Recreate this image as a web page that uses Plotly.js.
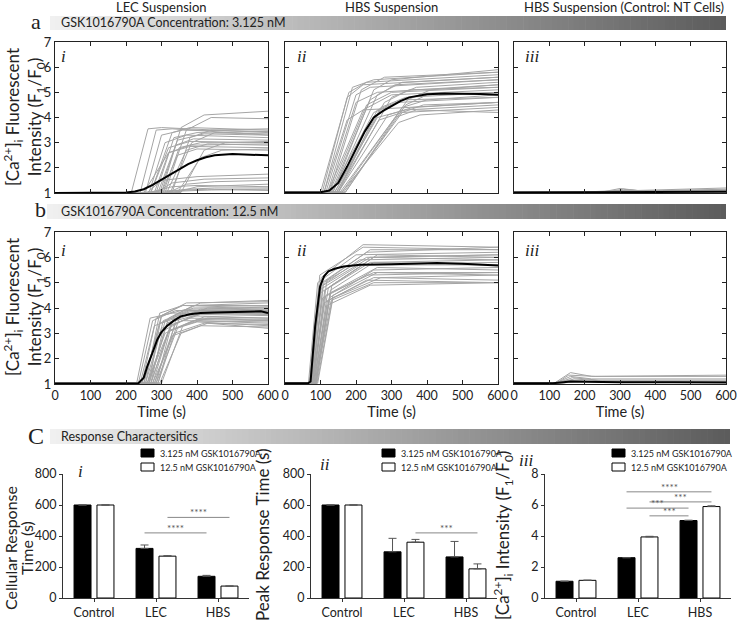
<!DOCTYPE html>
<html>
<head>
<meta charset="utf-8">
<script src="https://cdn.plot.ly/plotly-3.0.1.min.js"></script>
<style>
  html, body { margin: 0; padding: 0; background: #fff; }
  #chart { width: 737px; height: 621px; }
</style>
</head>
<body>
<div id="chart"></div>
<script>
// ---- traces: one row per cell, [onset, riseEnd, riseValue, settleTime, plateau, valueAt600] ----
const timeTicks = [0, 100, 200, 300, 400, 500, 600];

const lecLowCells = [
  [215, 262, 3.55, 300, 3.6, 3.4], [240, 285, 3.5, 330, 3.55, 3.3], [255, 300, 3.3, 360, 3.5, 3.45],
  [270, 330, 3.4, 380, 3.6, 3.5], [300, 355, 3.6, 420, 4.1, 4.25], [310, 370, 3.5, 440, 4.0, 3.95],
  [285, 335, 3.2, 400, 3.4, 3.35], [295, 345, 3.1, 420, 3.35, 3.3], [305, 350, 2.8, 410, 3.0, 3.0],
  [315, 370, 2.7, 430, 2.95, 2.9], [280, 320, 2.6, 380, 2.85, 2.8], [325, 385, 3.0, 450, 3.4, 3.45],
  [345, 410, 2.4, 470, 2.7, 2.75], [290, 340, 2.9, 390, 3.15, 3.1], [265, 310, 3.0, 370, 3.3, 3.2],
  [300, 345, 2.5, 400, 2.75, 2.7], [330, 380, 3.2, 440, 3.5, 3.55], [355, 420, 2.7, 480, 3.0, 3.05],
  [270, 320, 2.8, 380, 3.05, 3.0], [250, 320, 2.6, 380, 2.9, 2.95], [260, 300, 1.5, 400, 1.65, 1.75],
  [285, 330, 1.4, 420, 1.55, 1.6], [320, 370, 1.35, 450, 1.45, 1.5], [265, 330, 1.25, 400, 1.3, 1.25],
  [300, 370, 1.15, 450, 1.2, 1.2], [240, 330, 1.1, 430, 1.15, 1.1], [340, 400, 1.25, 480, 1.3, 1.35],
  [305, 360, 1.08, 440, 1.12, 1.15]
];
const hbsLowCells = [
  [100, 180, 5.0, 230, 5.4, 5.7], [105, 175, 4.8, 220, 5.3, 5.6], [110, 190, 5.2, 250, 5.5, 5.8],
  [115, 200, 4.9, 240, 5.2, 5.5], [110, 175, 3.9, 220, 4.3, 4.6], [120, 200, 4.6, 260, 5.0, 5.3],
  [125, 230, 4.5, 300, 5.0, 5.2], [130, 240, 4.7, 310, 5.3, 5.5], [130, 250, 4.2, 320, 4.6, 4.8],
  [135, 260, 4.9, 330, 5.4, 5.6], [140, 260, 4.0, 340, 4.3, 4.5], [140, 270, 4.4, 340, 4.8, 5.0],
  [145, 280, 4.6, 350, 5.1, 5.2], [150, 290, 4.1, 360, 4.4, 4.6], [150, 300, 4.8, 370, 5.2, 5.4],
  [120, 220, 4.3, 300, 4.9, 5.1], [160, 320, 3.8, 380, 4.1, 4.3], [165, 330, 4.2, 390, 4.5, 4.6],
  [170, 340, 4.5, 400, 4.9, 5.0], [155, 310, 4.0, 370, 4.3, 4.2], [160, 330, 4.4, 400, 4.7, 4.9],
  [170, 345, 4.7, 410, 5.1, 5.3], [135, 250, 5.1, 300, 5.5, 5.9], [125, 215, 5.1, 280, 5.6, 5.8],
  [145, 265, 3.9, 330, 4.2, 4.4], [150, 260, 4.3, 330, 4.7, 4.8]
];
const ntLowCells = [
  [250, 300, 1.18, 350, 1.1, 1.2], [260, 310, 1.15, 360, 1.08, 1.15], [280, 320, 1.12, 380, 1.08, 1.12],
  [200, 300, 1.1, 400, 1.07, 1.1], [250, 300, 1.08, 400, 1.06, 1.08], [300, 350, 1.08, 450, 1.05, 1.06]
];
const lecHighCells = [
  [230, 268, 3.6, 330, 3.8, 3.75], [235, 275, 3.5, 340, 3.9, 3.85], [240, 280, 3.3, 360, 3.7, 3.6],
  [245, 285, 3.6, 360, 4.1, 4.0], [250, 295, 3.4, 380, 3.9, 3.9], [250, 300, 3.7, 370, 4.2, 4.25],
  [255, 300, 3.2, 380, 3.6, 3.55], [260, 305, 3.5, 390, 4.0, 4.05], [260, 310, 3.0, 390, 3.5, 3.4],
  [265, 315, 3.4, 400, 3.85, 3.8], [265, 320, 3.6, 390, 4.1, 4.2], [270, 320, 3.1, 400, 3.45, 3.3],
  [270, 325, 3.3, 400, 3.75, 3.7], [275, 330, 3.5, 410, 3.95, 3.95], [275, 335, 3.0, 420, 3.4, 3.35],
  [280, 340, 3.4, 420, 3.8, 3.75], [285, 345, 3.2, 420, 3.65, 3.6], [290, 350, 3.6, 430, 4.0, 3.9],
  [295, 355, 3.0, 430, 3.4, 3.2], [300, 360, 3.3, 430, 3.6, 3.5], [255, 295, 3.8, 360, 4.1, 4.1],
  [245, 290, 3.0, 360, 3.5, 3.45], [285, 335, 3.7, 410, 4.2, 4.3], [270, 310, 3.5, 380, 3.85, 3.85],
  [260, 320, 3.1, 400, 3.55, 3.5], [290, 340, 3.5, 420, 3.8, 3.8], [280, 330, 2.9, 410, 3.3, 3.25],
  [265, 300, 3.7, 370, 3.95, 4.0]
];
const hbsHighCells = [
  [66, 92, 5.0, 200, 6.1, 6.2], [68, 95, 4.8, 210, 5.9, 6.0], [70, 98, 5.3, 220, 6.4, 6.3],
  [72, 100, 4.6, 220, 5.7, 5.8], [72, 104, 5.0, 230, 6.2, 6.4], [74, 106, 4.4, 230, 5.3, 5.4],
  [75, 108, 4.9, 240, 6.0, 5.9], [76, 110, 4.2, 230, 5.1, 5.0], [78, 112, 4.7, 240, 5.8, 5.9],
  [78, 115, 4.5, 250, 5.4, 5.3], [80, 118, 5.1, 240, 6.3, 6.3], [80, 120, 4.3, 250, 5.2, 5.1],
  [82, 122, 4.8, 250, 6.0, 6.1], [84, 125, 4.4, 250, 5.5, 5.6], [85, 128, 4.6, 260, 5.6, 5.5],
  [86, 130, 4.3, 250, 5.0, 5.0], [88, 132, 4.9, 260, 6.1, 6.0], [90, 135, 4.5, 260, 5.4, 5.4],
  [70, 96, 4.7, 210, 5.7, 5.7], [74, 102, 5.2, 220, 6.5, 6.4], [82, 118, 4.1, 240, 4.9, 5.0],
  [88, 128, 4.7, 250, 5.8, 5.7], [76, 108, 5.0, 230, 6.0, 6.1], [92, 135, 4.4, 270, 5.2, 5.3]
];
const ntHighCells = [
  [115, 160, 1.45, 220, 1.3, 1.35], [120, 155, 1.35, 230, 1.3, 1.3], [120, 160, 1.3, 220, 1.2, 1.2],
  [125, 165, 1.25, 240, 1.15, 1.15], [130, 170, 1.2, 250, 1.12, 1.1], [110, 150, 1.15, 220, 1.1, 1.08],
  [140, 180, 1.12, 260, 1.08, 1.07]
];
const cellBaseline = [1.02, 1.03, 1.04, 1.03, 1.03, 1.04];

// mean traces (black)
const lecLowMeanT = [0, 100, 200, 225, 250, 275, 300, 325, 350, 375, 400, 425, 450, 500, 550, 600];
const lecLowMeanV = [1.0, 1.0, 1.02, 1.06, 1.15, 1.32, 1.52, 1.75, 1.95, 2.15, 2.3, 2.42, 2.5, 2.55, 2.52, 2.5];
const hbsLowMeanT = [0, 100, 125, 150, 175, 200, 225, 250, 275, 300, 325, 350, 400, 450, 500, 550, 600];
const hbsLowMeanV = [1.02, 1.03, 1.1, 1.4, 2.05, 2.75, 3.45, 4.0, 4.25, 4.45, 4.65, 4.8, 4.92, 4.95, 4.95, 4.93, 4.9];
const ntLowMeanT = [0, 300, 600];
const ntLowMeanV = [1.02, 1.03, 1.05];
const lecHighMeanT = [0, 200, 235, 250, 260, 275, 288, 300, 316, 335, 354, 380, 410, 450, 505, 550, 580, 600];
const lecHighMeanV = [1.02, 1.02, 1.03, 1.25, 1.7, 2.25, 2.75, 3.05, 3.3, 3.5, 3.67, 3.75, 3.8, 3.82, 3.83, 3.86, 3.87, 3.8];
const hbsHighMeanT = [0, 65, 72, 85, 99, 110, 122, 140, 165, 212, 300, 334, 428, 500, 550, 600];
const hbsHighMeanV = [1.03, 1.03, 1.1, 3.28, 4.86, 5.25, 5.45, 5.55, 5.64, 5.71, 5.73, 5.74, 5.78, 5.75, 5.72, 5.68];
const ntHighMeanT = [0, 110, 140, 160, 200, 300, 450, 600];
const ntHighMeanV = [1.03, 1.03, 1.07, 1.1, 1.09, 1.07, 1.07, 1.06];

// ---- response characteristics ----
const groups = ['Control', 'LEC', 'HBS'];
const doseNames = ['3.125 nM GSK1016790A', '12.5 nM GSK1016790A'];
const onsetLow = [600, 320, 140], onsetLowErr = [0, 22, 6];
const onsetHigh = [600, 270, 77], onsetHighErr = [0, 3, 0];
const peakLow = [600, 298, 265], peakLowErr = [0, 87, 100];
const peakHigh = [600, 360, 188], peakHighErr = [0, 18, 32];
const ampLow = [1.08, 2.6, 5.0], ampLowErr = [0, 0, 0.02];
const ampHigh = [1.14, 3.94, 5.9], ampHighErr = [0.01, 0.04, 0.05];
// [groupA, doseA, groupB, doseB, level, stars]
const onsetSig = [[1, 0, 2, 0, 420, '****'], [1, 1, 2, 1, 520, '****']];
const peakSig = [[1, 1, 2, 1, 420, '***']];
const ampSig = [[1, 0, 2, 1, 6.85, '****'], [1, 1, 2, 1, 6.2, '***'], [1, 0, 2, 0, 5.8, '***'], [1, 1, 2, 0, 5.3, '***']];

// ---- layout helpers (pixel -> paper) ----
const W = 737, H = 621;
const fx = x => x / W;
const fy = y => 1 - y / H;
const FONT = "Lato, 'Open Sans', sans-serif";
const SERIF = "'Liberation Serif', 'DejaVu Serif', serif";
const GREY = '#a5a5a5';
const AXC = '#222';

const traces = [];
const layout = {
  width: W, height: H,
  margin: { l: 0, r: 0, t: 0, b: 0 },
  paper_bgcolor: '#fff', plot_bgcolor: 'rgba(0,0,0,0)',
  font: { family: FONT, color: '#222', size: 13 },
  showlegend: false,
  barmode: 'group', bargap: 0.26, bargroupgap: 0.26,
  shapes: [], annotations: []
};

// time course panels
const lineCols = [[55, 268], [285, 498], [514, 726]];
const lineRows = [[42, 193], [232, 384]];
const panelCells = [lecLowCells, hbsLowCells, ntLowCells, lecHighCells, hbsHighCells, ntHighCells];
const panelMeans = [
  [lecLowMeanT, lecLowMeanV], [hbsLowMeanT, hbsLowMeanV], [ntLowMeanT, ntLowMeanV],
  [lecHighMeanT, lecHighMeanV], [hbsHighMeanT, hbsHighMeanV], [ntHighMeanT, ntHighMeanV]
];
const tEnd = timeTicks[timeTicks.length - 1];

panelCells.forEach((cells, p) => {
  const n = p + 1, r = Math.floor(p / 3), c = p % 3;
  const xa = 'x' + n, ya = 'y' + n;
  const base = cellBaseline[p];
  cells.forEach(cell => {
    const [t0, t1, v1, t2, v2, v3] = cell;
    traces.push({
      type: 'scatter', mode: 'lines', xaxis: xa, yaxis: ya,
      x: [0, t0, t1, t2, tEnd], y: [base, base, v1, v2, v3],
      line: { color: GREY, width: 1 }, hoverinfo: 'skip'
    });
  });
  traces.push({
    type: 'scatter', mode: 'lines', xaxis: xa, yaxis: ya,
    x: panelMeans[p][0], y: panelMeans[p][1],
    line: { color: '#000', width: 2 }, hoverinfo: 'skip'
  });

  const xax = {
    domain: [fx(lineCols[c][0]), fx(lineCols[c][1])], anchor: ya,
    range: [0, tEnd], tickvals: timeTicks, ticks: 'inside', ticklen: 4, tickcolor: AXC,
    showline: true, linecolor: AXC, linewidth: 1, mirror: 'ticks',
    showgrid: false, zeroline: false, showticklabels: r === 1,
    tickfont: { size: 12.5 }, ticklabeloverflow: 'allow'
  };
  if (r === 1) xax.title = { text: 'Time (s)', font: { size: 14.5 }, standoff: 3 };
  layout['xaxis' + (n === 1 ? '' : n)] = xax;
  layout['yaxis' + (n === 1 ? '' : n)] = {
    domain: [fy(lineRows[r][1]), fy(lineRows[r][0])], anchor: xa,
    range: [1, 7], dtick: 1, ticks: 'inside', ticklen: 4, tickcolor: AXC,
    showline: true, linecolor: AXC, linewidth: 1, mirror: 'ticks',
    showgrid: false, zeroline: false, showticklabels: c === 0,
    tickfont: { size: 13 }
  };
});

// bar panels
const barCols = [[63, 249], [311, 497], [545, 731]];
const barRow = [474, 598];
const barSets = [
  { low: onsetLow, lowErr: onsetLowErr, high: onsetHigh, highErr: onsetHighErr, sig: onsetSig, max: 800, dtick: 200 },
  { low: peakLow, lowErr: peakLowErr, high: peakHigh, highErr: peakHighErr, sig: peakSig, max: 800, dtick: 200 },
  { low: ampLow, lowErr: ampLowErr, high: ampHigh, highErr: ampHighErr, sig: ampSig, max: 8, dtick: 2 }
];
const slotOffset = (1 - layout.bargap) / 4;
const legendBoxX = [141, 382, 612];

barSets.forEach((s, i) => {
  const n = 7 + i, xa = 'x' + n, ya = 'y' + n;
  [[s.low, s.lowErr, '#000'], [s.high, s.highErr, '#fff']].forEach(([vals, errs, fill], d) => {
    traces.push({
      type: 'bar', x: groups, y: vals, name: doseNames[d], xaxis: xa, yaxis: ya,
      marker: { color: fill, line: { color: '#000', width: 1 } },
      error_y: { type: 'data', symmetric: false, array: errs, arrayminus: errs.map(() => 0),
                 color: '#555', thickness: 1, width: 4 },
      hoverinfo: 'skip'
    });
  });
  layout['xaxis' + n] = {
    domain: [fx(barCols[i][0]), fx(barCols[i][1])], anchor: ya, type: 'category',
    range: [-0.5, 2.5], showline: true, linecolor: '#333', linewidth: 1,
    ticks: 'outside', ticklen: 3, tickcolor: '#333', showgrid: false, zeroline: false,
    tickfont: { size: 12.5 }
  };
  layout['yaxis' + n] = {
    domain: [fy(barRow[1]), fy(barRow[0])], anchor: xa,
    range: [0, s.max], dtick: s.dtick, showline: true, linecolor: '#333', linewidth: 1,
    ticks: 'outside', ticklen: 3, tickcolor: '#333', showgrid: false, zeroline: false,
    tickfont: { size: 12.5 }
  };
  s.sig.forEach(([ga, da, gb, db, lvl, stars]) => {
    const xA = ga + (da ? slotOffset : -slotOffset);
    const xB = gb + (db ? slotOffset : -slotOffset);
    layout.shapes.push({ type: 'line', xref: xa, yref: ya, x0: xA, x1: xB, y0: lvl, y1: lvl,
                         line: { color: '#888', width: 1 } });
    layout.annotations.push({ xref: xa, yref: ya, x: (xA + xB) / 2, y: lvl, yanchor: 'bottom',
                              text: stars, showarrow: false, font: { size: 10, color: '#555' }, yshift: -3 });
  });
  // legend
  doseNames.forEach((name, d) => {
    const cy = d ? 467 : 453;
    const bx = legendBoxX[i];
    layout.shapes.push({ type: 'rect', xref: 'paper', yref: 'paper',
      x0: fx(bx), x1: fx(bx + 13), y0: fy(cy + 4), y1: fy(cy - 4),
      fillcolor: d ? '#fff' : '#000', line: { color: '#000', width: 1 } });
    layout.annotations.push({ xref: 'paper', yref: 'paper', x: fx(bx + 17), y: fy(cy),
      xanchor: 'left', yanchor: 'middle', text: name, showarrow: false, font: { size: 9 } });
  });
});

// gradient banners
function banner(x0, x1, y0, y1) {
  const steps = 120, c0 = 240, c1 = 92;
  for (let k = 0; k < steps; k++) {
    const g = Math.round(c0 + (c1 - c0) * k / (steps - 1));
    const a = x0 + (x1 - x0) * k / steps, b = x0 + (x1 - x0) * (k + 1) / steps + 0.6;
    layout.shapes.push({ type: 'rect', xref: 'paper', yref: 'paper', layer: 'below',
      x0: fx(a), x1: fx(Math.min(b, x1)), y0: fy(y1), y1: fy(y0),
      fillcolor: `rgb(${g},${g},${g})`, line: { width: 0 } });
  }
}
banner(50, 726, 16, 30);
banner(47, 726, 204, 219);
banner(50, 730, 429, 444);

const ann = (text, x, y, opts = {}) => layout.annotations.push(Object.assign({
  xref: 'paper', yref: 'paper', x: fx(x), y: fy(y), text, showarrow: false,
  xanchor: 'center', yanchor: 'middle'
}, opts));

// column headers
ann('LEC Suspension', 161.5, 7, { font: { size: 13 } });
ann('HBS Suspension', 391.5, 7, { font: { size: 13 } });
ann('HBS Suspension (Control: NT Cells)', 624, 7, { font: { size: 13 } });

// banner texts and section letters
ann('GSK1016790A Concentration: 3.125 nM', 59, 23, { xanchor: 'left', font: { size: 12.5 } });
ann('GSK1016790A Concentration: 12.5 nM', 59, 211.5, { xanchor: 'left', font: { size: 12.5 } });
ann('Response Charactersitics', 59, 436.5, { xanchor: 'left', font: { size: 12.5 } });
ann('a', 36, 21, { font: { size: 22, family: SERIF } });
ann('b', 40, 210, { font: { size: 22, family: SERIF } });
ann('C', 36, 436, { font: { size: 24, family: SERIF } });

// panel numerals
const numeralPos = [[63, 57, 'i'], [302, 57, 'ii'], [532, 57, 'iii'], [63, 250, 'i'], [302, 250, 'ii'],
                    [532, 250, 'iii'], [80, 471, 'i'], [325, 464, 'ii'], [526, 460, 'iii']];
numeralPos.forEach(([x, y, t]) => ann('<i>' + t + '</i>', x, y, { font: { size: 17, family: SERIF } }));

// y titles
const caTitle = '[Ca<sup>2+</sup>]<sub>i</sub> Fluorescent<br>Intensity (F<sub>1</sub>/F<sub>0</sub>)';
ann(caTitle, 24, 117, { textangle: -90, font: { size: 17 } });
ann(caTitle, 24, 307, { textangle: -90, font: { size: 17 } });
ann('Cellular Response', 10, 548, { textangle: -90, font: { size: 16 } });
ann('Time (s)', 26, 548, { textangle: -90, font: { size: 16 } });
ann('Peak Response Time (s)', 262, 535, { textangle: -90, font: { size: 17 } });
ann('[Ca<sup>2+</sup>]<sub>i</sub> Intensity (F<sub>1</sub>/F<sub>0</sub>)', 503, 536, { textangle: -90, font: { size: 17 } });

Plotly.newPlot('chart', traces, layout, { displayModeBar: false, staticPlot: true });
</script>
</body>
</html>
